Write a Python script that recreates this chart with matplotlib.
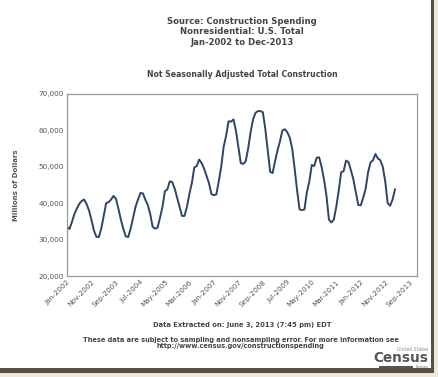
import numpy as np
import matplotlib
matplotlib.use('Agg')
import matplotlib.pyplot as plt
from matplotlib.patches import Rectangle
from matplotlib.ticker import FuncFormatter

# Ежемесячные расходы (млн долл.), янв 2002 - мар 2013
y2002 = [33500, 32900, 34800, 37000, 38500, 39800, 40600, 41000, 39800, 38000, 35400, 32500]
y2003 = [30800, 30700, 33000, 36500, 40000, 40300, 41000, 42000, 41200, 38500, 35500, 33000]
y2004 = [30900, 30700, 33000, 36000, 39000, 41000, 42800, 42700, 41000, 39500, 37000, 33500]
y2005 = [33000, 33300, 36000, 39000, 43300, 43800, 46000, 45800, 44000, 41500, 39000, 36500]
y2006 = [36500, 39000, 42500, 45500, 49800, 50200, 52000, 51000, 49500, 47500, 45500, 42500]
y2007 = [42200, 42400, 46000, 50000, 55500, 58500, 62500, 62400, 63000, 60000, 55500, 51000]
y2008 = [50800, 51500, 55000, 59500, 63000, 64800, 65300, 65300, 65000, 60500, 54500, 48600]
y2009 = [48300, 51500, 54500, 57000, 60000, 60300, 59500, 58000, 55000, 49500, 43500, 38300]
y2010 = [38100, 38300, 43000, 46000, 50500, 50200, 52500, 52600, 50000, 46500, 42000, 35500]
y2011 = [34700, 35500, 39000, 43500, 48500, 48800, 51700, 51300, 49000, 46500, 43000, 39500]
y2012 = [39400, 41500, 44000, 48500, 51200, 51800, 53500, 52300, 51800, 50000, 46000, 40000]
y2013 = [39300, 41000, 43800]

values = y2002 + y2003 + y2004 + y2005 + y2006 + y2007 + y2008 + y2009 + y2010 + y2011 + y2012 + y2013

tick_labels = ['Jan-2002', 'Nov-2002', 'Sep-2003', 'Jul-2004', 'May-2005', 'Mar-2006',
               'Jan-2007', 'Nov-2007', 'Sep-2008', 'Jul-2009', 'May-2010', 'Mar-2011',
               'Jan-2012', 'Nov-2012', 'Sep-2013']

gray = '#555555'
fig = plt.figure(figsize=(4.39, 3.77), dpi=100)
fig.patch.set_facecolor('white')

# рамка-тень справа и снизу
fig.patches.append(Rectangle((0.9815, 0.0), 0.0185, 1.0, transform=fig.transFigure,
                             facecolor='#ece8dc', edgecolor='none', zorder=0))
fig.patches.append(Rectangle((0.0, 0.0), 1.0, 0.011, transform=fig.transFigure,
                             facecolor='#ece8dc', edgecolor='none', zorder=0))
fig.patches.append(Rectangle((0.982, 0.011), 0.007, 0.989, transform=fig.transFigure,
                             facecolor='#5a5040', edgecolor='none', zorder=1))
fig.patches.append(Rectangle((0.0, 0.011), 0.989, 0.012, transform=fig.transFigure,
                             facecolor='#5a5040', edgecolor='none', zorder=1))

ax = fig.add_axes([0.1526, 0.2679, 0.7974, 0.4828])
x = np.arange(len(values))
ax.plot(x, values, color='#2f4565', linewidth=1.4)

ax.set_xlim(0, 143)
ax.set_ylim(20000, 70000)
ax.set_yticks(np.arange(20000, 70001, 10000))
ax.yaxis.set_major_formatter(FuncFormatter(lambda v, p: f'{int(v):,}'))
ax.set_xticks(np.arange(0, 141, 10))
ax.set_xticklabels(tick_labels, rotation=45, ha='right', va='top', rotation_mode='anchor')
ax.tick_params(length=0, labelsize=5.2, colors=gray, pad=2)
for s in ax.spines.values():
    s.set_color('#999999')
    s.set_linewidth(0.9)

fig.text(0.036, 0.51, 'Millions of Dollars', rotation=90, ha='center', va='center',
         fontsize=5, fontweight='bold', color=gray)

fig.text(0.551, 0.955, 'Source: Construction Spending\nNonresidential: U.S. Total\nJan-2002 to Dec-2013',
         ha='center', va='top', fontsize=6.1, fontweight='bold', color='#444444', linespacing=1.2)
fig.text(0.551, 0.803, 'Not Seasonally Adjusted Total Construction', ha='center', va='center',
         fontsize=5.6, fontweight='bold', color='#444444')

fig.text(0.551, 0.138, 'Data Extracted on: June 3, 2013 (7:45 pm) EDT', ha='center', va='center',
         fontsize=4.9, fontweight='bold', color='#444444')
fig.text(0.548, 0.090, 'These data are subject to sampling and nonsampling error. For more information see\nhttp://www.census.gov/constructionspending',
         ha='center', va='center', fontsize=4.75, fontweight='bold', color='#444444', linespacing=1.15)

# логотип Census
fig.text(0.975, 0.074, 'United States', ha='right', va='center', fontsize=3.3, color='#888888', style='italic')
fig.text(0.975, 0.051, 'Census', ha='right', va='center', fontsize=9.8, fontweight='bold', color='#555555')
fig.patches.append(Rectangle((0.864, 0.024), 0.076, 0.006, transform=fig.transFigure,
                             facecolor='#555555', edgecolor='none', zorder=2))
fig.text(0.975, 0.0265, 'Bureau', ha='right', va='center', fontsize=2.6, color='#777777')

fig.savefig('out.png', dpi=100)
